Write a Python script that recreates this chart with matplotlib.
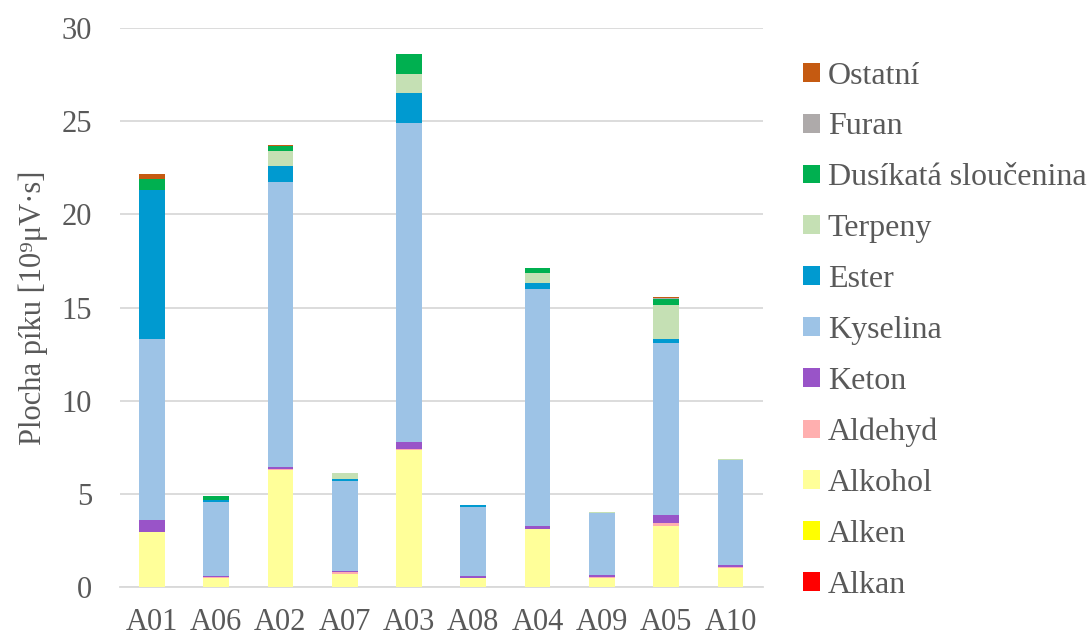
import matplotlib
matplotlib.use("Agg")
import matplotlib.pyplot as plt
import numpy as np
from matplotlib.patches import Patch

samples = ["A01", "A06", "A02", "A07", "A03", "A08", "A04", "A09", "A05", "A10"]

alkan = [0, 0, 0, 0, 0, 0, 0, 0, 0, 0]
alken = [0, 0, 0, 0, 0, 0, 0, 0, 0, 0]
alkohol = [2.93, 0.50, 6.29, 0.70, 7.36, 0.46, 3.10, 0.50, 3.27, 1.04]
aldehyd = [0.03, 0.02, 0.05, 0.08, 0.05, 0.03, 0.03, 0.03, 0.14, 0.03]
keton = [0.62, 0.05, 0.12, 0.06, 0.37, 0.12, 0.13, 0.10, 0.43, 0.11]
kyselina = [9.75, 3.97, 15.26, 4.83, 17.14, 3.70, 12.74, 3.32, 9.25, 5.62]
ester = [7.99, 0.13, 0.86, 0.14, 1.59, 0.08, 0.29, 0.02, 0.21, 0.02]
terpeny = [0.0, 0.02, 0.84, 0.29, 1.00, 0.0, 0.56, 0.03, 1.84, 0.06]
dusikata = [0.59, 0.20, 0.23, 0.02, 1.09, 0.0, 0.27, 0.0, 0.34, 0.0]
furan = [0, 0, 0, 0, 0, 0, 0, 0, 0.02, 0]
ostatni = [0.25, 0, 0.05, 0, 0, 0, 0, 0, 0.05, 0]

series = [
    ("Alkan", alkan, "#FF0000"),
    ("Alken", alken, "#FFFF00"),
    ("Alkohol", alkohol, "#FFFF99"),
    ("Aldehyd", aldehyd, "#FFAFAF"),
    ("Keton", keton, "#9954C8"),
    ("Kyselina", kyselina, "#9DC3E6"),
    ("Ester", ester, "#009AD0"),
    ("Terpeny", terpeny, "#C5E0B4"),
    ("Dusíkatá sloučenina", dusikata, "#00B050"),
    ("Furan", furan, "#AEAAAA"),
    ("Ostatní", ostatni, "#C55A11"),
]

text_color = "#595959"
plt.rcParams["font.family"] = ["Liberation Serif", "DejaVu Serif"]

fig = plt.figure(figsize=(10.88, 6.36), dpi=100)
ax = fig.add_axes([0.110, 0.077, 0.591, 0.879])

x = np.arange(len(samples))
bottom = np.zeros(len(samples))
for name, vals, color in series:
    vals = np.array(vals, dtype=float)
    ax.bar(x, vals, 0.4, bottom=bottom, color=color, label=name, zorder=3)
    bottom += vals

ax.set_xlim(-0.5, len(samples) - 0.5)
ax.set_ylim(0, 30)
ax.set_yticks(np.arange(0, 31, 5))
ax.set_xticks(x)
ax.set_xticklabels(samples)
ax.grid(axis="y", color="#D9D9D9", linewidth=1.3, zorder=0)
for side in ["top", "right", "left"]:
    ax.spines[side].set_visible(False)
ax.spines["bottom"].set_color("#D9D9D9")
ax.spines["bottom"].set_linewidth(1.3)
ax.tick_params(axis="y", length=0, pad=20, labelsize=22, labelcolor=text_color)
ax.tick_params(axis="x", length=0, pad=15, labelsize=22, labelcolor=text_color)
ax.set_ylabel("Plocha píku [10⁹μV·s]", fontsize=22, color=text_color, labelpad=10)

handles = [Patch(facecolor=c, label=n) for n, _, c in series][::-1]
fig.legend(handles=handles, loc="center left", bbox_to_anchor=(0.738, 0.48),
           frameon=False, fontsize=23, labelcolor=text_color,
           handlelength=0.53, handleheight=0.53, handletextpad=0.25,
           labelspacing=0.685, borderaxespad=0, borderpad=0)

fig.savefig("out.png", dpi=100)
